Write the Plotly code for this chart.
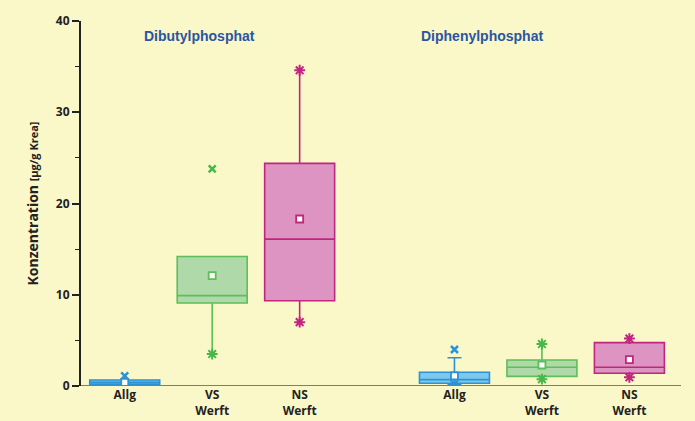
import plotly.graph_objects as go

# ---- data ----
positions = [1, 2, 3, 4.77, 5.77, 6.77]
tick_labels = ["<b>Allg</b>", "<b>VS<br>Werft</b>", "<b>NS<br>Werft</b>",
               "<b>Allg</b>", "<b>VS<br>Werft</b>", "<b>NS<br>Werft</b>"]
q1 = [0.2, 9.1, 9.35, 0.3, 1.06, 1.4]
median = [0.4, 9.9, 16.1, 0.7, 2.05, 2.05]
q3 = [0.65, 14.2, 24.4, 1.5, 2.85, 4.75]
mean = [0.4, 12.1, 18.3, 1.1, 2.3, 2.9]
minimum = [0.2, 3.5, 7.0, 0.2, 0.75, 0.95]
maximum = [0.65, 14.2, 34.6, 3.1, 4.6, 5.2]
min_shown = [False, True, True, True, True, True]
max_shown = [False, False, True, False, True, True]
outlier = [1.1, 23.8, None, 4.0, None, None]
group_titles = ["Dibutylphosphat", "Diphenylphosphat"]
group_title_x = [1.86, 5.08]

fills = ["#7ec7ee", "#afd9a9", "#dd94c2"] * 2
lines = ["#2b93d3", "#5cbf5a", "#c0267f"] * 2
star_colors = ["#2b93d3", "#46b84a", "#c0267f"] * 2
caps = [0, 0, 0, 0.2, 0, 0]

bg = "#faf7c8"

fig = go.Figure()

for i, p in enumerate(positions):
    fig.add_trace(go.Box(
        x=[p], q1=[q1[i]], median=[median[i]], q3=[q3[i]],
        lowerfence=[minimum[i]], upperfence=[maximum[i]],
        width=0.8, fillcolor=fills[i],
        line=dict(color=lines[i], width=1.6),
        whiskerwidth=caps[i], boxpoints=False, showlegend=False,
        hoverinfo="skip"))

# min / max stars
for i, p in enumerate(positions):
    ys = []
    if min_shown[i]:
        ys.append(minimum[i])
    if max_shown[i]:
        ys.append(maximum[i])
    if ys:
        fig.add_trace(go.Scatter(
            x=[p] * len(ys), y=ys, mode="markers", showlegend=False,
            marker=dict(symbol="asterisk-open", size=9, color=star_colors[i],
                        line=dict(color=star_colors[i], width=2))))
    if outlier[i] is not None:
        fig.add_trace(go.Scatter(
            x=[p], y=[outlier[i]], mode="markers", showlegend=False,
            marker=dict(symbol="x-thin-open", size=7, color=star_colors[i],
                        line=dict(color=star_colors[i], width=2.5))))

# mean markers
for i, p in enumerate(positions):
    fig.add_trace(go.Scatter(
        x=[p], y=[mean[i]], mode="markers", showlegend=False,
        marker=dict(symbol="square", size=7, color="white",
                    line=dict(color=lines[i], width=1.8))))

for t, xx in zip(group_titles, group_title_x):
    fig.add_annotation(x=xx, y=38.4, text="<b>" + t + "</b>", showarrow=False,
                       font=dict(family="Liberation Sans, Arial", size=14, color="#2856a3"),
                       xanchor="center", yanchor="middle")

fig.update_layout(
    width=695, height=421,
    margin=dict(l=81, r=14, t=21, b=35),
    paper_bgcolor=bg, plot_bgcolor=bg,
    boxmode="overlay",
    font=dict(family="Open Sans, Noto Sans, sans-serif", color="#222222", size=12),
    xaxis=dict(range=[0.5, 7.36], tickvals=positions, ticktext=tick_labels,
               showgrid=False, zeroline=False, showline=False,
               ticks="", automargin=False,
               tickfont=dict(size=12, color="#222222"), fixedrange=True),
    yaxis=dict(range=[0, 40], tickvals=[0, 10, 20, 30, 40], automargin=False,
               ticktext=["<b>0</b>", "<b>10</b>", "<b>20</b>", "<b>30</b>", "<b>40</b>"],
               showgrid=False, zeroline=False, showline=True, linecolor="#222222",
               linewidth=2, ticks="outside", ticklen=7, tickwidth=1.5, tickcolor="#222222",
               minor=dict(tickvals=[5, 15, 25, 35], ticks="outside", ticklen=4,
                          tickwidth=1.2, tickcolor="#222222"),
               tickfont=dict(size=12, color="#222222"),
               title=dict(text="<b>Konzentration <span style='font-size:11px'>[µg/g Krea]</span></b>",
                          font=dict(size=14, color="#222222"), standoff=14)),
)

# x-axis baseline
fig.add_shape(type="line", xref="paper", yref="y", x0=0, x1=1, y0=0, y1=0,
              line=dict(color="#555555", width=1.5), layer="below")

fig.write_html("out.html", config={"displayModeBar": False},
               post_script="document.body.style.margin='0';")
